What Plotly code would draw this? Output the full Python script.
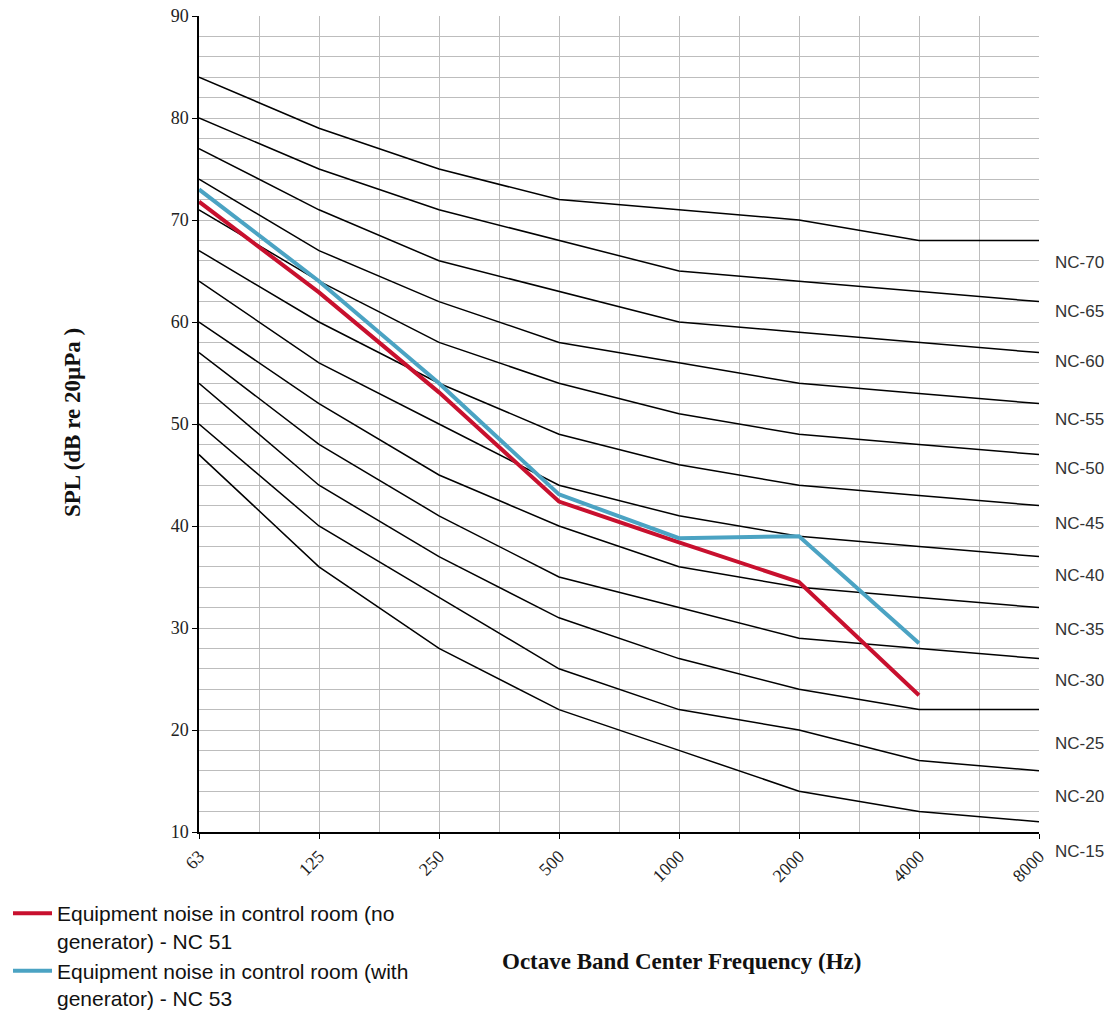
import plotly.graph_objects as go

# ---------------- data ----------------
freq_labels = ["63", "125", "250", "500", "1000", "2000", "4000", "8000"]

nc_names = ["NC-70", "NC-65", "NC-60", "NC-55", "NC-50", "NC-45",
            "NC-40", "NC-35", "NC-30", "NC-25", "NC-20", "NC-15"]
nc70 = [84, 79, 75, 72, 71, 70, 68, 68]
nc65 = [80, 75, 71, 68, 65, 64, 63, 62]
nc60 = [77, 71, 66, 63, 60, 59, 58, 57]
nc55 = [74, 67, 62, 58, 56, 54, 53, 52]
nc50 = [71, 64, 58, 54, 51, 49, 48, 47]
nc45 = [67, 60, 54, 49, 46, 44, 43, 42]
nc40 = [64, 56, 50, 44, 41, 39, 38, 37]
nc35 = [60, 52, 45, 40, 36, 34, 33, 32]
nc30 = [57, 48, 41, 35, 32, 29, 28, 27]
nc25 = [54, 44, 37, 31, 27, 24, 22, 22]
nc20 = [50, 40, 33, 26, 22, 20, 17, 16]
nc15 = [47, 36, 28, 22, 18, 14, 12, 11]
nc_curves = [nc70, nc65, nc60, nc55, nc50, nc45, nc40, nc35, nc30, nc25, nc20, nc15]

no_gen_name = "Equipment noise in control room (no<br>generator) - NC 51"
no_gen = [71.8, 62.9, 53.1, 42.4, 38.4, 34.5, 23.4, None]
with_gen_name = "Equipment noise in control room (with<br>generator) - NC 53"
with_gen = [73.0, 64.0, 54.0, 43.1, 38.8, 39.0, 28.5, None]

# label placement (layout, in dB units of the y axis)
nc_label_pos = [65.85, 61.0, 56.1, 50.4, 45.65, 40.2, 35.1, 29.9, 24.9, 18.7, 13.5, 8.1]

# ---------------- figure ----------------
x = list(range(len(freq_labels)))
Y_MIN, Y_MAX = 10, 90
SERIF = "Liberation Serif, Times New Roman, serif"
SANS = "Liberation Sans, Arial, sans-serif"
GRID = "#bdbdbd"
L, R, T, B = 199, 70, 16, 180
PW, PH = 1109 - L - R, 1012 - T - B

fig = go.Figure()
for name, vals in zip(nc_names, nc_curves):
    fig.add_trace(go.Scatter(x=x, y=vals, mode="lines", name=name,
                             line=dict(color="black", width=1.5),
                             showlegend=False, hoverinfo="skip"))

fig.add_trace(go.Scatter(x=x, y=no_gen, mode="lines", name=no_gen_name,
                         line=dict(color="#C8102E", width=4)))
fig.add_trace(go.Scatter(x=x, y=with_gen, mode="lines", name=with_gen_name,
                         line=dict(color="#4BA3C3", width=4)))

annotations = []
for name, ypos in zip(nc_names, nc_label_pos):
    annotations.append(dict(text=name, xref="paper", x=1, xanchor="left", xshift=14,
                            yref="paper", y=(ypos - Y_MIN) / (Y_MAX - Y_MIN),
                            yanchor="middle", showarrow=False,
                            font=dict(family=SANS, size=17, color="#333333")))
annotations.append(dict(text="<b>Octave Band Center Frequency (Hz)</b>",
                        xref="paper", x=(681 - L) / PW, xanchor="center",
                        yref="paper", y=(1012 - B - 961) / PH, yanchor="middle",
                        showarrow=False,
                        font=dict(family=SERIF, size=23, color="#111111")))
annotations.append(dict(text="<b>SPL (dB re 20µPa )</b>", textangle=-90,
                        xref="paper", x=(72 - L) / PW, xanchor="center",
                        yref="paper", y=(1012 - B - 423) / PH, yanchor="middle",
                        showarrow=False,
                        font=dict(family=SERIF, size=23, color="#111111")))

fig.update_layout(
    width=1109, height=1012,
    margin=dict(l=L, r=R, t=T, b=B, autoexpand=False),
    paper_bgcolor="white", plot_bgcolor="white",
    showlegend=True,
    legend=dict(xref="container", yref="container", x=8 / 1109, y=1 - 893 / 1012,
                xanchor="left", yanchor="top", valign="top", itemwidth=39,
                font=dict(family=SANS, size=21, color="#111111"),
                bgcolor="rgba(0,0,0,0)", tracegroupgap=2),
    annotations=annotations,
)

fig.update_xaxes(
    range=[0, 7], tickmode="array", tickvals=x, ticktext=freq_labels,
    tickangle=-45, ticks="outside", ticklen=5, tickcolor="black", tickwidth=1.3,
    showline=True, linecolor="black", linewidth=1.5, automargin=False,
    showgrid=True, gridcolor=GRID, gridwidth=1.3, zeroline=False,
    minor=dict(tickmode="linear", tick0=0, dtick=0.5, showgrid=True,
               gridcolor=GRID, gridwidth=1.3, ticks=""),
    tickfont=dict(family=SERIF, size=18, color="#222222"),
)
fig.update_yaxes(
    range=[Y_MIN, Y_MAX], tick0=10, dtick=10,
    ticks="outside", ticklen=5, tickcolor="black", tickwidth=1.3,
    showline=True, linecolor="black", linewidth=1.5, automargin=False,
    showgrid=True, gridcolor=GRID, gridwidth=1.3, zeroline=False,
    minor=dict(tick0=10, dtick=2, showgrid=True, gridcolor=GRID, gridwidth=1.3, ticks=""),
    tickfont=dict(family=SERIF, size=18, color="#222222"),
)

fig.write_html("out.html", config={"displayModeBar": False},
               post_script="document.body.style.margin='0';document.body.style.overflow='hidden';")
